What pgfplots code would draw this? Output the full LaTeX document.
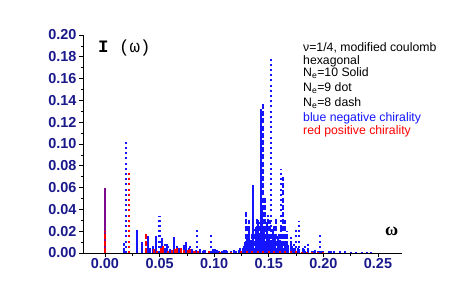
\documentclass[border=0pt]{standalone}
\usepackage{fontspec}
\setmainfont{Liberation Sans}
\newfontfamily\monof{Liberation Mono}
\newfontfamily\seriff{Liberation Serif}
\usepackage{pgfplots}
\pgfplotsset{compat=1.18}
\usepackage{pgfplotstable}
\definecolor{ticklab}{RGB}{25,25,140}
\definecolor{pblue}{RGB}{20,20,255}
\definecolor{pred}{RGB}{255,0,0}

\pgfplotstableread{
x y
0.000 0.060
0.029 0.021
0.034 0.010
0.039 0.016
0.044 0.006
0.047 0.016
0.052 0.014
0.055 0.005
0.057 0.008
0.060 0.004
0.063 0.015
0.066 0.006
0.069 0.004
0.072 0.007
0.074 0.010
0.077 0.005
0.080 0.004
0.083 0.003
0.087 0.004
0.091 0.003
0.095 0.002
0.099 0.004
0.103 0.003
0.107 0.002
0.111 0.003
0.115 0.002
0.119 0.002
0.123 0.003
0.126 0.005
0.128 0.010
0.130 0.014
0.132 0.020
0.134 0.012
0.136 0.062
0.138 0.024
0.140 0.030
0.1415 0.018
0.1426 0.132
0.144 0.040
0.146 0.022
0.148 0.028
0.150 0.015
0.152 0.012
0.154 0.020
0.156 0.014
0.158 0.016
0.160 0.012
0.162 0.010
0.165 0.009
0.168 0.007
0.171 0.006
0.174 0.005
0.178 0.004
0.182 0.004
0.186 0.003
0.190 0.002
0.195 0.002
0.200 0.002
0.205 0.001
0.210 0.002
0.215 0.001
0.220 0.002
0.225 0.001
0.230 0.001
0.235 0.001
0.240 0.001
0.244 0.001
}\blueSolid

\pgfplotstableread{
x y
0.0192 0.104
0.050 0.034
0.058 0.006
0.067 0.005
0.078 0.006
0.084 0.022
0.090 0.004
0.097 0.017
0.104 0.004
0.112 0.003
0.120 0.003
0.127 0.008
0.134 0.012
0.140 0.016
0.146 0.020
0.152 0.179
0.156 0.018
0.161 0.077
0.166 0.012
0.170 0.008
0.175 0.023
0.178 0.029
0.183 0.006
0.190 0.004
0.197 0.017
0.205 0.002
0.215 0.002
}\blueDot

\pgfplotstableread{
x y
0.017 0.009
0.041 0.006
0.055 0.008
0.068 0.005
0.079 0.004
0.092 0.003
0.101 0.004
0.109 0.003
0.118 0.003
0.124 0.005
0.129 0.038
0.131 0.025
0.132 0.030
0.135 0.018
0.137 0.022
0.139 0.032
0.141 0.028
0.143 0.045
0.145 0.137
0.147 0.052
0.149 0.035
0.151 0.030
0.153 0.022
0.155 0.026
0.157 0.032
0.159 0.018
0.161 0.025
0.163 0.070
0.165 0.030
0.167 0.020
0.170 0.015
0.173 0.008
0.177 0.006
0.181 0.005
0.186 0.008
0.192 0.003
0.199 0.002
0.207 0.002
}\blueDash

\pgfplotstableread{
x y
0.045 0.004
0.053 0.006
0.061 0.003
0.066 0.005
0.072 0.003
0.078 0.004
0.085 0.002
0.095 0.002
0.105 0.001
0.115 0.001
0.125 0.002
0.130 0.002
0.135 0.002
0.140 0.002
0.145 0.002
0.150 0.002
0.155 0.002
0.160 0.002
0.165 0.002
0.170 0.002
0.175 0.002
0.180 0.001
0.185 0.001
0.190 0.001
0.195 0.001
0.200 0.001
}\redSolid

\pgfplotstableread{
x y
0.000 0.060
}\redZero

\pgfplotstableread{
x y
0.022 0.076
0.048 0.003
0.058 0.004
0.082 0.002
}\redDot

\pgfplotstableread{
x y
0.000 0.020
0.0375 0.017
0.051 0.005
0.064 0.004
0.070 0.006
0.076 0.003
}\redDash

\begin{document}
\begin{tikzpicture}[x=1bp,y=1bp]
\path[use as bounding box] (-83,-52) rectangle (384,253);
\begin{axis}[
  at={(0,0)}, anchor=south west,
  scale only axis, width=319bp, height=218bp,
  xmin=-0.0201, xmax=0.272, ymin=0, ymax=0.20,
  axis x line*=bottom, axis y line*=left,
  axis line style={black, line width=0.8bp},
  tick align=outside,
  major tick length=4bp, minor tick length=2.5bp,
  tick style={black, line width=0.7bp},
  xtick={0,0.05,0.1,0.15,0.2,0.25},
  ytick={0,0.02,...,0.2},
  minor x tick num=1, minor y tick num=1,
  /pgf/number format/assume math mode=true,
  xticklabel style={/pgf/number format/fixed, /pgf/number format/fixed zerofill, /pgf/number format/precision=2, font=\fontsize{14.5}{14.5}\selectfont\bfseries, color=ticklab, yshift=2bp},
  yticklabel style={/pgf/number format/fixed, /pgf/number format/fixed zerofill, /pgf/number format/precision=2, font=\fontsize{14.5}{14.5}\selectfont\bfseries, color=ticklab, xshift=1bp},
  scaled ticks=false,
  clip=false,
]
\addplot[ycomb, pblue, line width=2bp, mark=none] table {\blueSolid};
\addplot[ycomb, pblue, line width=2.2bp, dash pattern=on 2bp off 3.2bp, mark=none] table {\blueDot};
\addplot[ycomb, pblue, line width=2bp, dash pattern=on 5bp off 2.2bp, mark=none] table {\blueDash};
\addplot[ycomb, pred, line width=2bp, mark=none] table {\redSolid};
\addplot[ycomb, pred, line width=2bp, opacity=0.45, mark=none] table {\redZero};
\addplot[ycomb, pred, line width=2.2bp, dash pattern=on 2bp off 3.2bp, mark=none] table {\redDot};
\addplot[ycomb, pred, line width=2bp, dash pattern=on 5bp off 2.2bp, mark=none] table {\redDash};
\end{axis}
% axis-relative placements: (px-83, 253-py)
\node[anchor=base west, inner sep=0pt] at (15,201) {\monof\fontsize{17.5}{18}\selectfont\bfseries I\mdseries\ (ω)};
\node[anchor=base west, inner sep=0pt] at (302,18) {\seriff\fontsize{18}{18}\selectfont\bfseries ω};
\begin{scope}[every node/.style={anchor=base west, inner sep=0pt, font=\fontsize{12.3}{12}\selectfont}]
\node at (220,201.7) {ν=1/4, modified coulomb};
\node at (220,189) {hexagonal};
\node at (220,176.3) {N\textsubscript{e}=10 Solid};
\node at (220,161.3) {N\textsubscript{e}=9 dot};
\node at (220,146.3) {N\textsubscript{e}=8 dash};
\node[text=pblue] at (220,131.3) {blue negative chirality};
\node[text=pred] at (220,119) {red positive chirality};
\end{scope}
\end{tikzpicture}
\end{document}
